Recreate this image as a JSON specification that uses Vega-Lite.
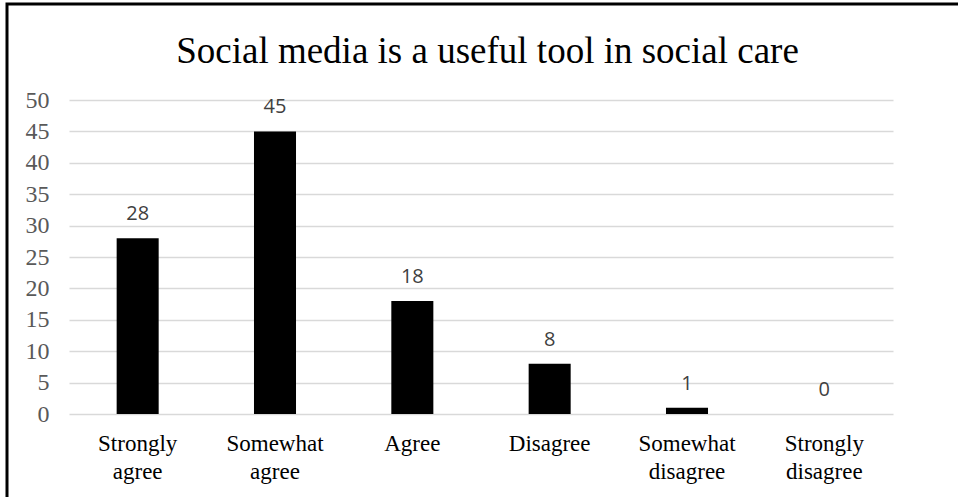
{
  "$schema": "https://vega.github.io/schema/vega-lite/v6.json",
  "autosize": {"type": "none"},
  "padding": {"left": 7, "top": 4, "right": 0, "bottom": 0},
  "width": 953,
  "height": 495,
  "background": "white",
  "config": {"view": {"stroke": "black", "strokeWidth": 3}},
  "title": {
    "text": "Social media is a useful tool in social care",
    "font": "Liberation Serif",
    "fontSize": 37,
    "fontWeight": "normal",
    "color": "#000000",
    "anchor": "middle",
    "baseline": "alphabetic",
    "offset": -96,
    "dx": 4
  },
  "data": {
    "values": [
      {"response": "Strongly agree", "count": 28},
      {"response": "Somewhat agree", "count": 45},
      {"response": "Agree", "count": 18},
      {"response": "Disagree", "count": 8},
      {"response": "Somewhat disagree", "count": 1},
      {"response": "Strongly disagree", "count": 0}
    ]
  },
  "encoding": {
    "x": {
      "field": "response",
      "type": "nominal",
      "sort": null,
      "scale": {"range": [62, 886], "paddingInner": 0.694, "paddingOuter": 0.347},
      "axis": {
        "title": null,
        "orient": "bottom",
        "offset": -84,
        "domain": false,
        "ticks": false,
        "grid": false,
        "labelAngle": 0,
        "labelExpr": "split(datum.label, ' ')",
        "labelFont": "Liberation Serif",
        "labelFontSize": 23,
        "labelColor": "#000000",
        "labelBaseline": "top",
        "labelPadding": 17,
        "labelLineHeight": 28
      }
    },
    "y": {
      "field": "count",
      "type": "quantitative",
      "scale": {"domain": [0, 50], "range": [410, 96], "nice": false, "zero": true},
      "axis": {
        "title": null,
        "values": [0, 5, 10, 15, 20, 25, 30, 35, 40, 45, 50],
        "offset": -62,
        "domain": false,
        "ticks": false,
        "grid": true,
        "gridColor": "#d9d9d9",
        "gridWidth": 1.5,
        "labelFont": "Liberation Serif",
        "labelFontSize": 24,
        "labelColor": "#595959",
        "labelPadding": 20
      }
    }
  },
  "layer": [
    {
      "mark": {"type": "bar", "color": "#000000", "strokeWidth": 0}
    },
    {
      "mark": {"type": "text", "font": "Open Sans", "fontSize": 20, "color": "#404040", "baseline": "alphabetic", "dy": -18},
      "encoding": {"text": {"field": "count", "type": "quantitative"}}
    }
  ]
}
